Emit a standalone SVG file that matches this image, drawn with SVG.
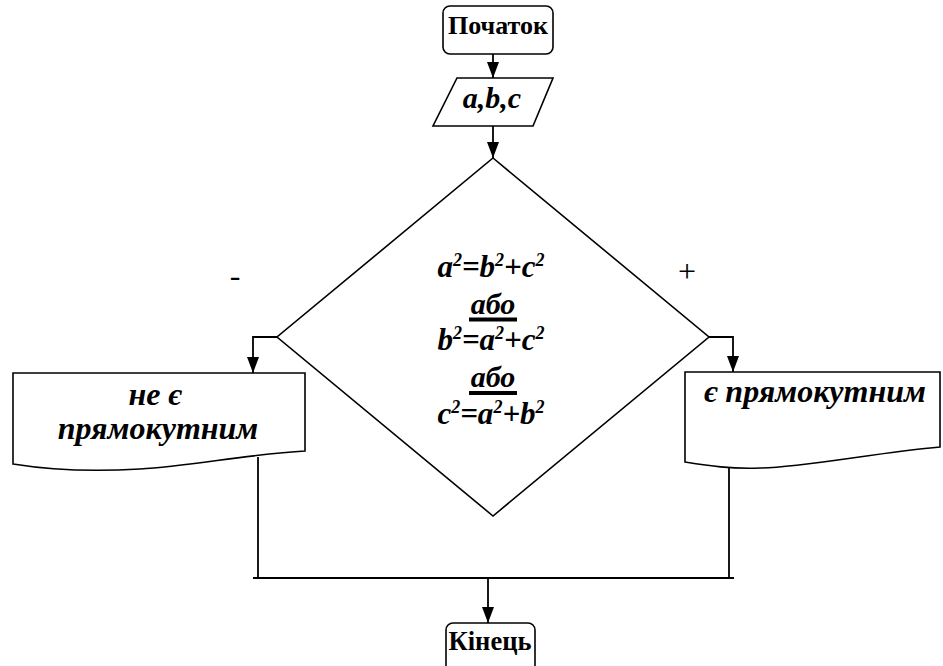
<svg xmlns="http://www.w3.org/2000/svg" width="943" height="666" viewBox="0 0 943 666">
<defs>
<marker id="arr" viewBox="0 0 16 12" refX="16" refY="6" markerWidth="16" markerHeight="12" markerUnits="userSpaceOnUse" orient="auto">
<path d="M0,0 L16,6 L0,12 Z" fill="#000"/>
</marker>
</defs>
<style>
.shape{fill:#fff;stroke:#000;stroke-width:1.6}
.conn{fill:none;stroke:#000;stroke-width:1.8}
.bold{font-family:"Liberation Serif","DejaVu Serif",serif;font-weight:bold;fill:#000}
.bi{font-family:"Liberation Serif","DejaVu Serif",serif;font-weight:bold;font-style:italic;fill:#000}
.reg{font-family:"Liberation Serif","DejaVu Serif",serif;fill:#000}
.sup{font-size:18px}
</style>
<rect width="943" height="666" fill="#fff"/>
<g id="connectors">
<path class="conn" d="M493,54 V78" marker-end="url(#arr)"/>
<path class="conn" d="M493,126 V158" marker-end="url(#arr)"/>
<path class="conn" d="M277,337 H253 V373" marker-end="url(#arr)"/>
<path class="conn" d="M709,337 H733 V372" marker-end="url(#arr)"/>
<path class="conn" d="M258,457 V578"/>
<path class="conn" d="M729,457 V578"/>
<path class="conn" d="M253,578 H734"/>
<path class="conn" d="M488,578 V623" marker-end="url(#arr)"/>
</g>
<g id="start">
<rect class="shape" x="443" y="6" width="110" height="48" rx="7"/>
<text class="bold" x="498" y="34" font-size="26" text-anchor="middle">Початок</text>
</g>
<g id="input">
<path class="shape" d="M457,78 H553 L533,126 H433 Z"/>
<text class="bi" x="492" y="108" font-size="30" text-anchor="middle">a,b,c</text>
</g>
<g id="decision">
<path class="shape" d="M493,158 L709,337 L493,516 L277,337 Z"/>
<text class="bi" x="491" y="277" font-size="31" text-anchor="middle">a<tspan class="sup" dy="-11">2</tspan><tspan dy="11">=b</tspan><tspan class="sup" dy="-11">2</tspan><tspan dy="11">+c</tspan><tspan class="sup" dy="-11">2</tspan></text>
<text class="bi" x="493" y="314" font-size="30" text-anchor="middle">або</text>
<rect x="469" y="317.5" width="48" height="4" fill="#000"/>
<text class="bi" x="491" y="350" font-size="31" text-anchor="middle">b<tspan class="sup" dy="-11">2</tspan><tspan dy="11">=a</tspan><tspan class="sup" dy="-11">2</tspan><tspan dy="11">+c</tspan><tspan class="sup" dy="-11">2</tspan></text>
<text class="bi" x="493" y="387" font-size="30" text-anchor="middle">або</text>
<rect x="469" y="391" width="48" height="4" fill="#000"/>
<text class="bi" x="491" y="424" font-size="31" text-anchor="middle">c<tspan class="sup" dy="-11">2</tspan><tspan dy="11">=a</tspan><tspan class="sup" dy="-11">2</tspan><tspan dy="11">+b</tspan><tspan class="sup" dy="-11">2</tspan></text>
<text class="reg" x="235" y="286" font-size="32" text-anchor="middle">-</text>
<text class="reg" x="687" y="282" font-size="32" text-anchor="middle">+</text>
</g>
<g id="no">
<path class="shape" d="M13,373 H305 V451 C250,454 190,466 140,469 C90,472 50,470 13,464 Z"/>
<text class="bi" x="155" y="405" font-size="32" text-anchor="middle">не є</text>
<text class="bi" x="158" y="439" font-size="32" text-anchor="middle">прямокутним</text>
</g>
<g id="yes">
<path class="shape" d="M685,372 H940 V447 C880,452 800,468 760,468 C730,469 710,466 685,462 Z"/>
<text class="bi" x="815" y="402" font-size="32" text-anchor="middle">є прямокутним</text>
</g>
<g id="end">
<rect class="shape" x="446" y="623" width="89" height="60" rx="7"/>
<text class="bold" x="490" y="650" font-size="26.5" text-anchor="middle">Кінець</text>
</g>
</svg>
